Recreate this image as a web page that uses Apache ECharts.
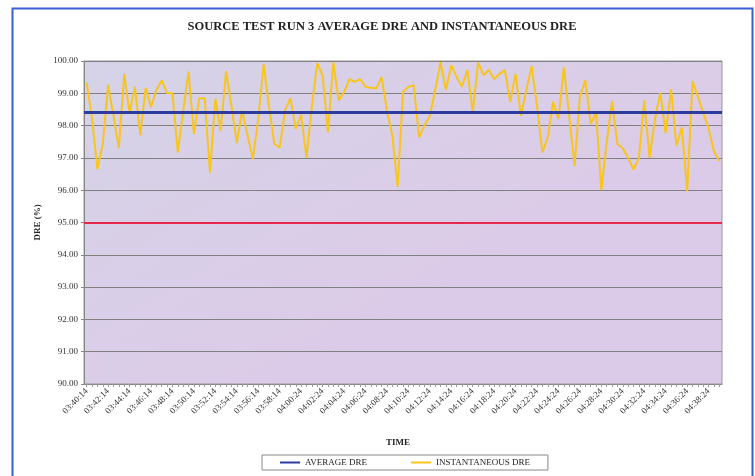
<!DOCTYPE html>
<html>
<head>
<meta charset="utf-8">
<script src="https://cdn.jsdelivr.net/npm/echarts@6/dist/echarts.min.js"></script>
<style>html,body{margin:0;padding:0;background:#fff;}#c{width:755px;height:476px;}</style>
</head>
<body>
<div id="c"></div>
<script>
// Tick labels (every 4th sample, 30 s apart)
const tickLabels = ['03:40:14','03:42:14','03:44:14','03:46:14','03:48:14','03:50:14','03:52:14','03:54:14','03:56:14','03:58:14',
  '04:00:24','04:02:24','04:04:24','04:06:24','04:08:24','04:10:24','04:12:24','04:14:24','04:16:24','04:18:24',
  '04:20:24','04:22:24','04:24:24','04:26:24','04:28:24','04:30:24','04:32:24','04:34:24','04:36:24','04:38:24'];
// Instantaneous DRE (%)
const instantaneousDre = [
  99.33,98.2,96.65,97.43,99.27,98.3,97.3,99.6,98.4,99.2,
  97.7,99.17,98.57,99.1,99.4,99.0,99.0,97.17,98.45,99.67,
  97.74,98.85,98.85,96.54,98.83,97.84,99.69,98.6,97.46,98.47,
  97.7,96.96,98.2,99.9,98.6,97.43,97.32,98.47,98.85,97.9,
  98.33,97.0,98.6,99.93,99.56,97.8,99.96,98.78,99.04,99.44,
  99.35,99.44,99.2,99.17,99.15,99.5,98.47,97.7,96.1,99.04,
  99.2,99.25,97.64,98.0,98.3,99.1,99.96,99.1,99.87,99.5,
  99.2,99.72,98.4,99.96,99.56,99.72,99.44,99.6,99.72,98.73,
  99.6,98.3,99.1,99.85,98.6,97.17,97.64,98.73,98.2,99.8,
  98.3,96.75,98.9,99.4,98.05,98.4,96.0,97.5,98.75,97.43,
  97.3,97.0,96.65,97.0,98.78,97.0,98.2,99.02,97.77,99.12,
  97.37,97.95,95.97,99.38,98.9,98.4,97.9,97.2,96.9];
const averageDre = 98.4;
const limitDre = 95.0;

// Build category times: each tick label followed by samples 30 s apart
function addSec(t, s){
  const p = t.split(':').map(Number);
  let tot = p[0]*3600+p[1]*60+p[2]+s;
  const h = Math.floor(tot/3600), m = Math.floor((tot%3600)/60), sec = tot%60;
  const f = n => String(n).padStart(2,'0');
  return f(h)+':'+f(m)+':'+f(sec);
}
const categories = [];
for (let i = 0; i < instantaneousDre.length; i++) {
  const k = Math.min(Math.floor(i/4), tickLabels.length-1);
  categories.push(addSec(tickLabels[k], (i - k*4)*30));
}

const serif = 'Liberation Serif';
const chart = echarts.init(document.getElementById('c'), null, {renderer:'canvas'});
chart.setOption({
  animation: false,
  backgroundColor: '#ffffff',
  title: {
    text: 'SOURCE TEST RUN 3 AVERAGE DRE AND INSTANTANEOUS DRE',
    left: 377, top: 15, textAlign: 'center',
    textStyle: {fontFamily: serif, fontSize: 12.5, fontWeight: 'bold', color: '#222'}
  },
  graphic: [{
    type: 'rect', left: 10, top: 6, shape: {width: 740, height: 480},
    style: {fill: 'none', stroke: '#3a5fd0', lineWidth: 2}, silent: true
  }],
  legend: {
    left: 262, top: 455,
    itemWidth: 20, itemHeight: 2, itemGap: 44,
    borderColor: '#888', borderWidth: 1, padding: [3, 18, 3, 18],
    icon: 'rect',
    textStyle: {fontFamily: serif, fontSize: 9, color: '#222'},
    data: ['AVERAGE DRE', 'INSTANTANEOUS DRE']
  },
  grid: {
    left: 84, right: 33, top: 61, bottom: 92,
    show: true, borderColor: '#999', borderWidth: 1,
    backgroundColor: {type: 'linear', x: 0, y: 0, x2: 0.3, y2: 1,
      colorStops: [{offset: 0, color: '#d5d3e7'}, {offset: 1, color: '#dccbe8'}]}
  },
  xAxis: {
    type: 'category', data: categories, boundaryGap: true,
    name: 'TIME', nameLocation: 'middle', nameGap: 54,
    nameTextStyle: {fontFamily: serif, fontSize: 9, fontWeight: 'bold', color: '#222', padding: [0, 10, 0, 0]},
    axisLine: {lineStyle: {color: '#888'}},
    axisTick: {show: true, interval: 0, length: 3, alignWithLabel: true, lineStyle: {color: '#999'}},
    axisLabel: {interval: 3, rotate: 45, fontFamily: serif, fontSize: 9, color: '#333', margin: 6},
    splitLine: {show: false}
  },
  yAxis: {
    type: 'value', min: 90, max: 100, interval: 1,
    name: 'DRE (%)', nameLocation: 'middle', nameGap: 42, nameRotate: 90,
    nameTextStyle: {fontFamily: serif, fontSize: 9, fontWeight: 'bold', color: '#222'},
    axisLine: {show: true, lineStyle: {color: '#888'}},
    axisTick: {show: true, length: 3, lineStyle: {color: '#888'}},
    axisLabel: {fontFamily: serif, fontSize: 9, color: '#333', margin: 6,
      formatter: v => v.toFixed(2)},
    splitLine: {show: true, lineStyle: {color: '#808080', width: 1}}
  },
  series: [
    {
      name: 'AVERAGE DRE', type: 'line', data: [], color: '#2b3c9e',
      lineStyle: {color: '#2b3c9e', width: 3}, showSymbol: false,
      markLine: {
        silent: true, symbol: ['none', 'none'], label: {show: false},
        lineStyle: {color: '#2b3c9e', width: 3, type: 'solid'},
        data: [{yAxis: averageDre}]
      }
    },
    {
      name: 'LIMIT', type: 'line', data: [], color: '#e8284a', showSymbol: false,
      markLine: {
        silent: true, symbol: ['none', 'none'], label: {show: false},
        lineStyle: {color: '#e8284a', width: 2, type: 'solid'},
        data: [{yAxis: limitDre}]
      }
    },
    {
      name: 'INSTANTANEOUS DRE', type: 'line', data: instantaneousDre, color: '#f8c51c',
      lineStyle: {color: '#f8c51c', width: 2}, showSymbol: false, symbol: 'none', z: 3
    }
  ]
});
</script>
</body>
</html>
